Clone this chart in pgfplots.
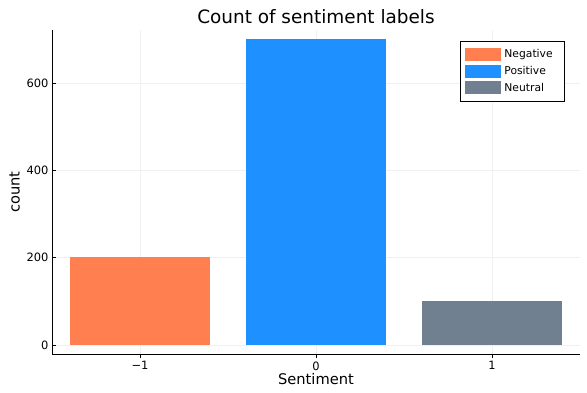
\documentclass[border=0pt]{standalone}
\usepackage{pgfplots}
\pgfplotsset{compat=1.18}
\usepackage{fontspec}
\setmainfont{DejaVu Sans}
\definecolor{cNeg}{RGB}{255,127,80}
\definecolor{cPos}{RGB}{30,144,255}
\definecolor{cNeu}{RGB}{112,128,144}
\begin{document}
\begin{tikzpicture}
\path[use as bounding box] (-52bp,-39bp) rectangle (535bp,354bp);
\begin{axis}[
  at={(0,0)}, anchor=south west,
  scale only axis, width=528bp, height=324bp,
  xmin=-1.5, xmax=1.5, ymin=-21, ymax=721,
  axis x line*=bottom, axis y line*=left,
  axis line style={-, black, line width=0.6pt},
  xtick={-1,0,1}, xticklabels={−1,0,1},
  ytick={0,200,400,600},
  /pgf/number format/assume math mode=true,
  tick align=inside, major tick length=4bp,
  tick style={black, line width=0.5pt},
  grid=major, grid style={gray!12, line width=0.5pt},
  ticklabel style={font=\fontsize{11.5}{13}\selectfont},
  xlabel={Sentiment}, ylabel={count},
  label style={font=\fontsize{14.7}{17}\selectfont},
  xlabel style={yshift=4bp},
  ylabel style={yshift=0bp},
  title={Count of sentiment labels},
  title style={font=\fontsize{18.5}{21}\selectfont, yshift=-3bp},
  ybar, bar width=140.8bp, bar shift=0pt,
  legend cell align=left,
  legend style={at={(0.9715,0.966)}, anchor=north east, draw=black, line width=0.5pt,
    font=\fontsize{10.8}{12}\selectfont, row sep=3bp, inner xsep=5bp, inner ysep=6.5bp},
  legend image code/.code={\fill[#1] (0bp,-6.5bp) rectangle (36bp,6.5bp);},
]
\addplot[fill=cNeg, draw=none] coordinates {(-1,200)};
\addlegendentry{\hspace*{1bp}Negative\hspace*{5bp}}
\addplot[fill=cPos, draw=none] coordinates {(0,700)};
\addlegendentry{\hspace*{1bp}Positive}
\addplot[fill=cNeu, draw=none] coordinates {(1,100)};
\addlegendentry{\hspace*{1bp}Neutral}
\end{axis}
\end{tikzpicture}
\end{document}
